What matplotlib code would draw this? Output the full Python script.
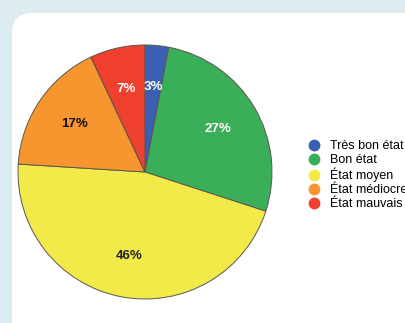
import matplotlib.pyplot as plt
from matplotlib.patches import FancyBboxPatch
from matplotlib.lines import Line2D

plt.rcParams["font.family"] = ["Liberation Sans", "DejaVu Sans"]

labels = ["Très bon état", "Bon état", "État moyen", "État médiocre", "État mauvais"]
shares = [3, 27, 46, 17, 7]
colors = ["#3b5fb3", "#3aae58", "#f1ea48", "#f7962f", "#ef3f2d"]
pct_colors = ["white", "white", "#222222", "#111111", "white"]

W, H = 406, 323
fig = plt.figure(figsize=(W / 100, H / 100), dpi=100)
fig.patch.set_facecolor("#dcecf1")

# white rounded card that runs off the right and bottom edges
card = FancyBboxPatch((12 / W, -0.2), 1.2, (H - 13) / H + 0.2,
                      boxstyle="round,pad=0,rounding_size=0.05",
                      transform=fig.transFigure, facecolor="white",
                      edgecolor="none", mutation_aspect=W / H, zorder=-1)
fig.patches.append(card)

# pie placed by its centre and radius in pixels
cx, cy, r = 145, 172, 127
ax = fig.add_axes([(cx - r) / W, (H - cy - r) / H, 2 * r / W, 2 * r / H])
ax.set_zorder(2)
wedges, _, autotexts = ax.pie(
    shares, colors=colors, startangle=90, counterclock=False,
    autopct=lambda p: f"{p:.0f}%", pctdistance=0.67, radius=1,
    wedgeprops=dict(edgecolor="#5a5650", linewidth=0.7),
    textprops=dict(fontsize=9.5, fontweight="bold"))
for t, c in zip(autotexts, pct_colors):
    t.set_color(c)
ax.set_xlim(-1.0, 1.0)
ax.set_ylim(-1.0, 1.0)
ax.set_aspect("equal")
ax.axis("off")

handles = [Line2D([], [], marker="o", linestyle="none", markersize=7.5,
                  markerfacecolor=c, markeredgecolor=c) for c in colors]
fig.legend(handles, labels, loc="upper left",
           bbox_to_anchor=(307.5 / W, 1 - 140 / H), frameon=False,
           fontsize=9, labelspacing=0.15, handlelength=1.0,
           handletextpad=0.78, borderpad=0, borderaxespad=0)

fig.savefig("out.png", dpi=100)
